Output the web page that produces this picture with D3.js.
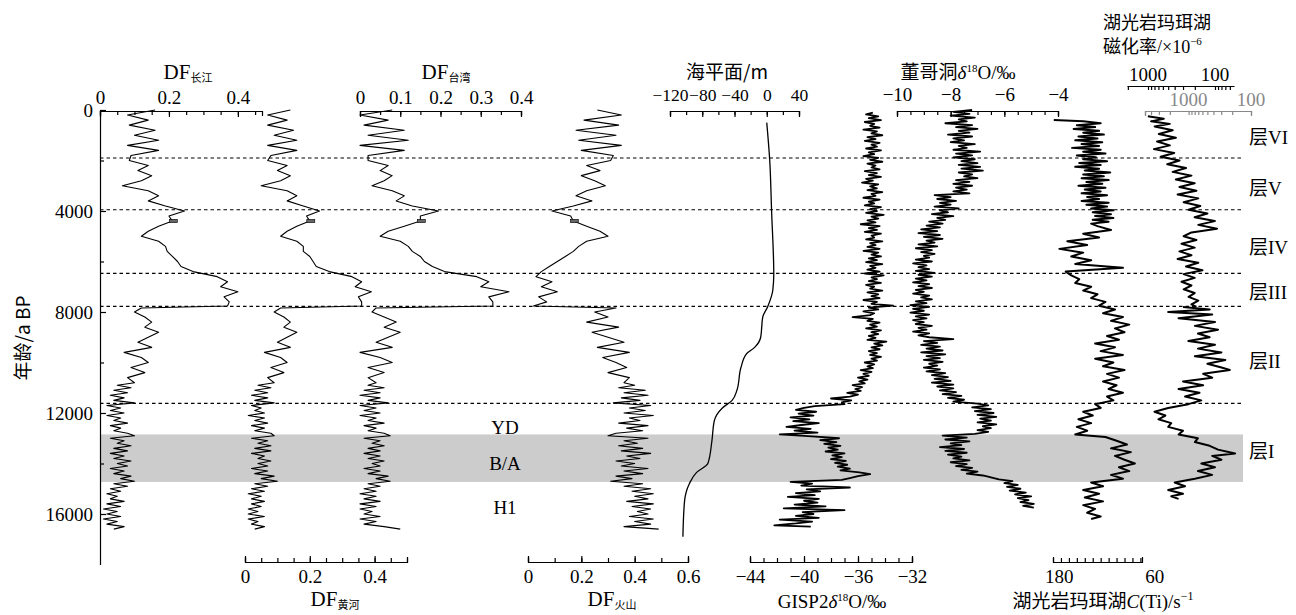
<!DOCTYPE html>
<meta charset="utf-8">
<head>
    <title>DF / climate records vs age</title>
</head>
<style>
    body { margin: 0; background: #fff; }
    text { font-family: "Liberation Serif", "Times New Roman", serif; fill: #000; }
    .cjk { font-family: "Noto Sans CJK SC", sans-serif; }
    .curve { fill: none; stroke: #000; stroke-linejoin: round; }
    .boundary { stroke: #000; stroke-width: 1.2px; stroke-dasharray: 3.5 3; }
</style>
<script src="https://d3js.org/d3.v7.min.js"></script>
<div id="my_viz"></div>
<script>

    // ---- age axis / zones ----
    var ageTicks = [0, 4000, 8000, 12000, 16000];
    var ageMinor = [2000, 6000, 10000, 14000];
    var boundaryAges = [1900, 3950, 6470, 7780, 11620];
    var bandAges = [12850, 14730];
    var eventNames = ["YD", "B/A", "H1"];
    var eventAges = [12550, 14000, 15750];
    var layerNames = ["层VI", "层V", "层IV", "层III", "层II", "层I"];
    var layerAges = [1070, 3090, 5420, 7230, 9950, 13500];
    var dfMarkAges = [4330, 4460];   // small filled box on every DF curve

    // ---- DF series (shared sample ages) ----
    var dfAges = [0,200,400,600,800,1000,1200,1400,1600,1800,2000,2200,2400,2600,2800,3000,3200,3400,3600,3800,
        4000,4200,4400,4600,4800,5000,5200,5400,5600,5800,6000,6200,6400,6600,6800,7000,7200,7400,7600,7760,7840,
        8000,8200,8400,8600,8800,9000,9200,9400,9600,9800,10000,10200,10400,10600,10800,
        10900,11000,11100,11200,11300,11400,11500,11600,11700,11800,11900,12000,12100,12200,12300,12400,12500,
        12600,12700,12800,12900,13000,13100,13200,13300,13400,13500,13600,13700,13800,13900,14000,14100,14200,
        14300,14400,14500,14600,14700,14800,14900,15000,15100,15200,15300,15400,15500,15600,15700,15800,15900,
        16000,16100,16200,16300,16400,16500,16600];
    var dfChangjiang = [.16,.08,.14,.085,.16,.10,.17,.08,.17,.09,.085,.14,.11,.15,.12,.065,.14,.17,.14,.19,
        .245,.20,.21,.17,.14,.12,.17,.19,.195,.21,.225,.235,.27,.34,.37,.35,.40,.36,.375,.37,.12,
        .10,.13,.15,.13,.17,.14,.11,.15,.07,.12,.14,.09,.13,.08,.10,
        .05,.09,.04,.08,.03,.07,.04,.10,.02,.06,.03,.07,.02,.06,.04,.08,.03,.06,.04,.08,.10,.03,.07,.05,.09,
        .04,.08,.03,.07,.04,.09,.05,.08,.03,.07,.04,.09,.06,.10,.04,.08,.03,.06,.02,.05,.03,.07,.02,.06,.01,
        .05,.02,.06,.01,.05,.02,.07,.04];
    var dfHuanghe = [.14,.07,.13,.07,.15,.09,.16,.07,.16,.08,.07,.13,.10,.14,.11,.05,.13,.16,.13,.18,
        .23,.19,.20,.16,.13,.11,.16,.18,.18,.20,.21,.22,.26,.33,.36,.34,.39,.35,.36,.36,.11,
        .09,.12,.14,.12,.16,.13,.10,.14,.06,.11,.13,.08,.12,.07,.09,
        .04,.08,.03,.07,.02,.07,.03,.09,.02,.05,.03,.06,.01,.06,.03,.07,.02,.06,.03,.08,.09,.02,.07,.04,.08,
        .03,.08,.02,.06,.04,.08,.04,.07,.02,.07,.03,.09,.05,.10,.03,.07,.02,.06,.01,.05,.02,.06,.02,.05,.01,
        .04,.01,.06,.01,.04,.02,.06,.03];
    var dfTaiwan = [.08,.00,.07,.01,.11,.02,.12,.00,.11,.02,.02,.07,.05,.08,.06,.03,.08,.11,.09,.13,
        .195,.15,.15,.11,.07,.05,.10,.12,.13,.15,.16,.18,.21,.29,.32,.30,.37,.32,.33,.33,.04,
        .03,.06,.09,.06,.10,.07,.04,.08,.00,.05,.08,.02,.06,.02,.04,
        .02,.06,.01,.05,.00,.05,.02,.07,.00,.04,.01,.05,.00,.04,.02,.06,.01,.04,.02,.06,.075,.01,.05,.03,.06,
        .02,.05,.01,.05,.02,.06,.03,.05,.01,.05,.02,.07,.04,.075,.02,.05,.01,.04,.00,.04,.01,.05,.00,.04,.00,
        .03,.01,.05,.00,.04,.01,.06,.10];
    var dfHuoshan = [.26,.35,.21,.34,.18,.33,.19,.35,.20,.32,.31,.22,.27,.20,.25,.29,.22,.18,.24,.17,
        .09,.16,.17,.22,.27,.30,.22,.19,.17,.14,.11,.08,.05,.03,.09,.05,.11,.04,.07,.02,.33,
        .25,.30,.22,.34,.24,.30,.36,.26,.38,.28,.33,.37,.30,.38,.36,
        .40,.34,.44,.36,.45,.35,.42,.32,.46,.38,.44,.36,.47,.38,.42,.34,.45,.37,.43,.33,.30,.45,.36,.41,.34,
        .43,.35,.46,.37,.42,.33,.40,.35,.45,.36,.43,.33,.39,.31,.43,.36,.46,.39,.47,.40,.45,.37,.47,.39,.46,
        .41,.45,.38,.47,.40,.46,.36,.49];

    // ---- sea level (m) ----
    var seaLevel = [[500,0],[2000,3.7],[4000,6],[6500,8.7],[7140,7.5],[7800,1],[8200,-5],[9000,-7.5],
        [9400,-15],[9650,-25],[10200,-32],[11100,-37],[11500,-43],[11800,-55],[12300,-65],[13100,-68],
        [14000,-73],[14350,-87],[14800,-96],[15500,-102],[16900,-104]];

    // ---- GISP2 d18O (permil) ----
    var gisp2 = [
        [100,-34.9],[175,-35.4],[250,-34.5],[325,-35.2],[400,-34.3],[475,-35.5],[550,-34.8],[625,-35.1],[700,-34.4],[775,-35.6],
        [850,-34.6],[925,-35.0],[1000,-34.2],[1075,-35.3],[1150,-34.7],[1225,-35.5],[1300,-34.4],[1375,-35.0],[1450,-34.6],[1525,-35.4],
        [1600,-34.3],[1675,-35.2],[1750,-34.8],[1825,-35.6],[1900,-34.5],[1975,-35.1],[2050,-34.2],[2125,-35.3],[2200,-34.7],[2275,-35.0],
        [2350,-34.4],[2425,-35.5],[2500,-34.6],[2575,-35.2],[2650,-34.3],[2725,-35.4],[2800,-34.9],[2875,-35.7],[2950,-34.5],[3025,-35.1],
        [3100,-34.6],[3175,-35.3],[3250,-34.2],[3325,-35.0],[3400,-34.7],[3475,-35.6],[3550,-34.4],[3625,-35.2],[3700,-34.8],[3775,-35.5],
        [3850,-34.3],[3925,-35.1],[4000,-34.6],[4075,-35.4],[4150,-34.1],[4225,-35.0],[4300,-34.5],[4375,-35.3],[4450,-34.7],[4525,-35.8],
        [4600,-34.4],[4675,-35.2],[4750,-34.6],[4825,-35.5],[4900,-34.3],[4975,-35.0],[5050,-34.8],[5125,-35.4],[5200,-34.2],[5275,-35.1],
        [5350,-34.7],[5425,-35.3],[5500,-34.4],[5575,-35.6],[5650,-34.5],[5725,-35.0],[5800,-34.3],[5875,-35.2],[5950,-34.6],[6025,-35.4],
        [6100,-34.2],[6175,-35.1],[6250,-34.7],[6325,-35.3],[6400,-34.4],[6475,-35.5],[6550,-34.1],[6625,-35.0],[6700,-34.6],[6775,-35.2],
        [6850,-34.3],[6925,-35.4],[7000,-34.8],[7075,-35.1],[7150,-34.2],[7225,-35.3],[7300,-34.5],[7375,-35.0],[7450,-34.4],[7525,-35.6],
        [7600,-34.6],[7675,-35.0],[7750,-33.4],[7825,-35.2],[7900,-34.5],[7975,-35.6],[8050,-34.8],[8125,-35.1],[8200,-36.4],[8275,-34.9],
        [8350,-35.3],[8425,-34.4],[8500,-35.1],[8575,-34.6],[8650,-35.4],[8725,-34.3],[8800,-35.0],[8875,-34.5],[8950,-35.2],[9025,-34.7],
        [9100,-35.3],[9175,-33.9],[9250,-34.8],[9325,-34.2],[9400,-35.0],[9475,-34.4],[9550,-35.2],[9625,-34.6],[9700,-35.1],[9775,-34.3],
        [9850,-35.0],[9925,-34.6],[10000,-35.5],[10075,-34.8],[10150,-35.3],[10225,-34.9],[10300,-35.8],[10375,-35.0],[10450,-35.6],[10525,-35.2],
        [10600,-36.0],[10675,-35.3],[10750,-35.9],[10825,-35.5],[10900,-36.4],[10975,-35.7],[11050,-36.2],[11125,-35.8],[11200,-36.8],[11275,-36.0],
        [11350,-36.6],[11425,-38.0],[11500,-36.5],[11575,-37.2],[11650,-37.0],[11725,-39.2],[11800,-40.0],[11875,-40.6],[11950,-39.1],[12025,-40.4],
        [12100,-39.3],[12175,-41.0],[12250,-39.6],[12325,-40.8],[12400,-38.9],[12475,-40.2],[12550,-41.3],[12625,-39.5],[12700,-40.7],[12775,-39.0],
        [12850,-41.8],[12925,-39.4],[13000,-37.4],[13075,-38.8],[13150,-37.6],[13225,-38.5],[13300,-37.3],[13375,-38.2],[13450,-37.5],[13525,-38.4],
        [13600,-37.0],[13675,-37.9],[13750,-37.2],[13825,-38.0],[13900,-36.9],[13975,-37.7],[14050,-36.8],[14125,-37.5],[14200,-36.6],[14275,-37.3],
        [14350,-35.9],[14425,-35.1],[14500,-36.0],[14575,-36.6],[14650,-37.2],[14725,-41.0],[14800,-39.4],[14875,-40.2],[14950,-36.6],[15025,-39.8],
        [15100,-38.8],[15175,-40.6],[15250,-39.2],[15325,-41.2],[15400,-38.9],[15475,-40.0],[15550,-39.0],[15625,-40.7],[15700,-38.4],[15775,-41.5],
        [15850,-37.0],[15925,-40.1],[16000,-39.3],[16075,-40.6],[16150,-38.9],[16225,-41.8],[16300,-39.4],[16375,-40.6],[16450,-42.2],[16500,-39.5]];

    // ---- Dongge cave d18O (permil) ----
    var dongge = [
        [0,-7.2],[75,-7.9],[150,-7.3],[225,-8.0],[300,-7.1],[375,-7.7],[450,-7.4],[525,-8.2],[600,-7.2],[675,-7.8],
        [750,-7.0],[825,-7.7],[900,-7.3],[975,-8.1],[1050,-7.2],[1125,-7.9],[1200,-7.5],[1275,-8.0],[1350,-7.1],[1425,-7.7],
        [1500,-7.4],[1575,-7.9],[1650,-6.9],[1725,-7.8],[1800,-7.2],[1875,-7.9],[1950,-7.1],[2025,-7.6],[2100,-7.0],[2175,-7.7],
        [2250,-6.9],[2325,-7.6],[2400,-6.8],[2475,-7.7],[2550,-7.2],[2625,-7.5],[2700,-7.0],[2775,-7.8],[2850,-7.3],[2925,-7.9],
        [3000,-7.2],[3075,-7.8],[3150,-7.4],[3225,-7.9],[3300,-7.3],[3375,-8.6],[3450,-8.0],[3525,-8.5],[3600,-7.8],[3675,-8.4],
        [3750,-8.0],[3825,-8.6],[3900,-7.7],[3975,-8.4],[4050,-8.1],[4125,-8.7],[4200,-7.9],[4275,-8.5],[4350,-8.2],[4425,-8.8],
        [4500,-8.3],[4575,-8.9],[4650,-8.4],[4725,-9.1],[4800,-8.5],[4875,-9.2],[4950,-8.4],[5025,-9.0],[5100,-8.3],[5175,-8.9],
        [5250,-8.6],[5325,-9.2],[5400,-8.5],[5475,-9.3],[5550,-8.7],[5625,-9.1],[5700,-8.6],[5775,-9.0],[5850,-8.8],[5925,-9.3],
        [6000,-8.7],[6075,-9.4],[6150,-8.9],[6225,-9.2],[6300,-8.8],[6375,-9.3],[6450,-8.6],[6525,-9.2],[6600,-8.7],[6675,-9.3],
        [6750,-8.9],[6825,-9.4],[6900,-8.8],[6975,-9.2],[7050,-8.7],[7125,-9.3],[7200,-9.0],[7275,-9.4],[7350,-8.8],[7425,-9.1],
        [7500,-8.7],[7575,-9.3],[7650,-8.9],[7725,-9.5],[7800,-8.8],[7875,-9.4],[7950,-9.0],[8025,-9.5],[8100,-8.8],[8175,-9.3],
        [8250,-8.9],[8325,-9.4],[8400,-9.0],[8475,-9.3],[8550,-8.7],[8625,-9.2],[8700,-8.9],[8775,-9.4],[8850,-8.8],[8925,-9.2],
        [9000,-8.8],[9075,-7.9],[9150,-9.0],[9225,-8.5],[9300,-9.1],[9375,-8.4],[9450,-8.9],[9525,-8.3],[9600,-9.1],[9675,-8.2],
        [9750,-8.9],[9825,-8.4],[9900,-9.0],[9975,-8.3],[10050,-8.8],[10125,-8.5],[10200,-9.0],[10275,-8.4],[10350,-8.9],[10425,-8.2],
        [10500,-8.7],[10575,-8.1],[10650,-8.6],[10725,-8.0],[10800,-8.7],[10875,-7.9],[10950,-8.5],[11025,-7.9],[11100,-8.4],[11175,-7.8],
        [11250,-8.3],[11325,-7.6],[11400,-8.1],[11475,-7.5],[11550,-7.9],[11625,-7.0],[11700,-6.6],[11775,-7.2],[11850,-6.5],[11925,-7.1],
        [12000,-6.4],[12075,-7.0],[12150,-6.3],[12225,-6.9],[12300,-6.5],[12375,-7.0],[12450,-6.3],[12525,-6.8],[12600,-6.5],[12675,-7.0],
        [12750,-6.6],[12825,-7.1],[12900,-8.3],[12975,-7.4],[13050,-8.2],[13125,-7.3],[13200,-8.0],[13275,-7.6],[13350,-8.4],[13425,-7.5],
        [13500,-8.2],[13575,-7.4],[13650,-8.1],[13725,-7.6],[13800,-7.9],[13875,-7.3],[13950,-8.0],[14025,-7.4],[14100,-7.8],[14175,-7.2],
        [14250,-7.6],[14325,-7.0],[14400,-7.4],[14475,-6.8],[14550,-6.5],[14625,-6.2],[14700,-5.7],[14775,-6.0],[14850,-5.5],[14925,-5.9],
        [15000,-5.4],[15075,-5.8],[15150,-5.2],[15225,-5.6],[15300,-5.0],[15375,-5.5],[15450,-5.1],[15525,-5.4],[15600,-4.9],[15675,-5.3],
        [15750,-4.9]];

    // ---- Huguangyan Maar Ti counts (cps) ----
    var tiCounts = [[400,187],[450,150],[525,128],[600,158],[675,135],[750,162],[825,130],[900,150],[975,124],[1050,156],
        [1125,132],[1200,160],[1275,126],[1350,152],[1425,130],[1500,164],[1575,128],[1650,150],[1725,122],[1800,158],
        [1875,134],[1950,150],[2025,120],[2100,155],[2175,128],[2250,160],[2325,130],[2400,148],[2475,116],[2550,150],
        [2625,124],[2700,152],[2775,118],[2850,146],[2925,126],[3000,156],[3075,122],[3150,148],[3225,128],[3300,152],
        [3375,120],[3450,145],[3525,130],[3600,152],[3675,118],[3750,146],[3825,120],[3900,140],[3975,112],[4050,138],
        [4125,115],[4200,135],[4275,112],[4350,138],[4425,118],[4500,140],
        [4600,132],[4750,115],[4900,150],[5050,130],[5200,170],[5350,145],[5500,180],[5650,150],[5800,165],[5950,140],
        [6100,160],[6250,100],[6400,172],[6550,165],[6700,155],[6850,160],[7000,140],[7150,150],[7300,132],[7450,140],
        [7600,122],[7750,130],[7900,110],[8050,125],[8200,100],[8350,115],[8500,92],[8650,110],[8800,98],[8950,120],
        [9100,105],[9250,135],[9400,110],[9550,128],[9700,100],[9850,135],[10000,112],[10150,125],[10300,98],[10450,120],
        [10600,105],[10750,125],[10900,108],[11050,118],[11200,100],[11350,120],[11500,112],[11650,135],[11800,128],
        [11950,150],[12100,138],[12250,156],[12400,140],[12550,158],[12700,145],[12850,160],[12950,122],[13100,108],
        [13250,95],[13400,115],[13550,90],[13700,110],[13850,98],[14000,85],[14150,105],[14300,92],[14450,115],
        [14600,100],[14750,140],[14900,125],[15050,150],[15200,130],[15350,148],[15500,125],[15650,150],[15800,135],
        [15950,145],[16100,128],[16200,140]];

    // ---- magnetic susceptibility (1e-6), upper part grey, lower part black ----
    var magSusUpper = [[250,4500],[350,2500],[450,4000],[550,2000],[650,3500],[800,1800],[950,3000],[1100,1600],
        [1250,3200],[1400,2000],[1550,3600],[1700,1700],[1850,2800],[2000,1400],[2150,2200],[2300,1100],[2450,1800],
        [2600,900],[2750,1600],[2900,800],[3050,1400],[3200,750],[3350,1500],[3500,700],[3650,1200],[3800,650],
        [3950,1000],[4100,500],[4250,800],[4400,380],[4550,700],[4700,350],[4850,900],[5000,1200],[5150,750],
        [5300,1300],[5450,800],[5600,1400],[5750,900],[5900,1500],[6050,700],[6200,1100],[6350,600],[6500,1200],
        [6650,800],[6800,1300],[6950,900],[7100,1200],[7250,800],[7400,1000],[7550,700],[7700,900],[7800,750]];
    var magSusLower = [[7800,300],[7900,120],[8000,500],[8100,110],[8250,350],[8400,100],[8550,200],[8700,90],
        [8850,180],[9000,120],[9150,250],[9300,100],[9450,180],[9600,80],[9750,200],[9900,70],[10050,130],[10200,80],
        [10300,60],[10450,150],[10600,110],[10750,300],[10900,150],[11050,350],[11200,170],[11350,280],[11500,160],
        [11650,250],[11800,500],[11950,800],[12100,550],[12250,700],[12400,450],[12550,500],[12700,300],[12850,350],
        [13000,180],[13150,200],[13300,120],[13450,90],[13600,50],[13700,110],[13850,80],[14000,160],[14150,100],
        [14300,180],[14450,110],[14600,200],[14750,400],[14900,280],[15050,500],[15200,300],[15300,450],[15400,350]];

    // ---- axis ticks ----
    var dfTicks = [0,0.05,0.1,0.15,0.2,0.25,0.3,0.35,0.4,0.45];
    var dfHhTicks = [0,0.05,0.1,0.15,0.2,0.25,0.3,0.35,0.4,0.45,0.5];
    var dfLabels = [0, 0.2, 0.4];
    var twTicks = [0,0.05,0.1,0.15,0.2,0.25,0.3,0.35,0.4];
    var twLabels = [0, 0.1, 0.2, 0.3, 0.4];
    var hsTicks = [0,0.1,0.2,0.3,0.4,0.5,0.6];
    var hsLabels = [0, 0.2, 0.4, 0.6];
    var seaTicks = [-120,-100,-80,-60,-40,-20,0,20,40];
    var seaLabels = [-120, -80, -40, 0, 40];
    var gispTicks = [-44,-43,-42,-41,-40,-39,-38,-37,-36,-35,-34,-33,-32];
    var gispLabels = [-44, -40, -36, -32];
    var dgTicks = [-10,-9.5,-9,-8.5,-8,-7.5,-7,-6.5,-6,-5.5,-5,-4.5,-4];
    var dgLabels = [-10, -8, -6, -4];
    var tiTicks = [188,178,168,158,148,138,128,118,108,98,88,78];
    var tiLabels = [180, 60];
    var msBlackTicks = [2000,1000,900,800,700,600,500,400,300,200,100,90,80,70,60];
    var msGreyTicks = [5000,4000,3000,2000,1000,900,800,700,600,500,400,300,200,100];
    var msLabels = [1000, 100];

    var W = 1296, H = 615;
    var topY = 111, botY = 562;
    var serif = "'Liberation Serif', 'Times New Roman', serif";
    var svg = d3.select("#my_viz").append("svg").attr("width", W).attr("height", H);

    var y = d3.scaleLinear().domain([0, 18000]).range([110, 564.5]);

    // x scales for each record
    var xCj = d3.scaleLinear().domain([0, 0.47]).range([100, 262]);
    var xHh = d3.scaleLinear().domain([0, 0.5]).range([245, 407]);
    var xTw = d3.scaleLinear().domain([0, 0.4]).range([360, 521]);
    var xHs = d3.scaleLinear().domain([0, 0.6]).range([528, 688]);
    var xSea = d3.scaleLinear().domain([-120, 40]).range([670, 799]);
    var xGisp = d3.scaleLinear().domain([-44, -32]).range([750, 912]);
    var xDg = d3.scaleLinear().domain([-10, -4]).range([897, 1058]);
    var xTi = d3.scaleLinear().domain([188, 76]).range([1053, 1142]);
    var xMsB = d3.scaleLog().domain([2060, 52]).range([1127, 1234]);
    var xMsG = d3.scaleLog().domain([5000, 100]).range([1145, 1251]);

    function fmt(d) { return d < 0 ? "\u2212" + Math.abs(d) : String(d); }

    // background: shaded B/A band and dashed zone boundaries
    svg.append("rect")
        .attr("x", 100).attr("width", 1143)
        .attr("y", y(bandAges[0])).attr("height", y(bandAges[1]) - y(bandAges[0]))
        .attr("fill", "#cccccc");

    svg.selectAll(".boundary").data(boundaryAges).enter().append("line")
        .attr("class", "boundary")
        .attr("x1", 100).attr("x2", 1243)
        .attr("y1", function (d) { return y(d); }).attr("y2", function (d) { return y(d); });

    // generic axis for a record: ticks point into the plot
    function recordAxis(scale, ypos, ticks, labels, where, color, labelSize) {
        color = color || "#000";
        var isTop = where === "top";
        var ax = isTop ? d3.axisTop(scale) : d3.axisBottom(scale);
        var g = svg.append("g").attr("transform", "translate(0," + ypos + ")");
        g.call(ax.tickValues(ticks).tickSizeInner(-4).tickSizeOuter(-5).tickFormat(""));
        var g2 = svg.append("g").attr("transform", "translate(0," + ypos + ")");
        g2.call((isTop ? d3.axisTop(scale) : d3.axisBottom(scale))
            .tickValues(labels).tickSizeInner(-6).tickSizeOuter(0).tickPadding(isTop ? 7 : 8).tickFormat(fmt));
        g2.select(".domain").remove();
        [g, g2].forEach(function (s) {
            s.attr("font-family", null).attr("font-size", null);
            s.selectAll("line,path").attr("stroke", color).attr("stroke-width", 1.2);
            s.selectAll("text").style("font-family", serif)
                .style("font-size", (labelSize || 19) + "px").style("fill", color);
        });
        return g2;
    }

    // age axis
    var ageAxis = svg.append("g").attr("transform", "translate(100,0)")
        .call(d3.axisLeft(y).tickValues(ageTicks).tickSizeInner(-6).tickSizeOuter(0).tickPadding(7).tickFormat(d3.format("d")));
    svg.append("g").attr("transform", "translate(100,0)")
        .call(d3.axisLeft(y).tickValues(ageMinor).tickSizeInner(-4).tickSizeOuter(0).tickFormat(""))
        .select(".domain").remove();
    ageAxis.attr("font-family", null).attr("font-size", null);
    ageAxis.selectAll("text").style("font-family", serif).style("font-size", "19px");
    svg.selectAll("g line, g path").attr("stroke-width", 1.2);

    svg.append("text")
        .attr("class", "cjk")
        .attr("transform", "translate(30," + 338 + ") rotate(-90)")
        .attr("text-anchor", "middle")
        .style("font-size", "19px")
        .text("年龄/a BP");

    // record axes
    recordAxis(xCj, topY, dfTicks, dfLabels, "top");
    recordAxis(xTw, topY, twTicks, twLabels, "top");
    recordAxis(xSea, topY, seaTicks, seaLabels, "top", "#000", 17.5).selectAll("text").attr("y", -10);
    recordAxis(xDg, topY, dgTicks, dgLabels, "top").selectAll("text").attr("y", -10);
    recordAxis(xHh, botY, dfHhTicks, dfLabels, "bottom");
    recordAxis(xHs, botY, hsTicks, hsLabels, "bottom");
    recordAxis(xGisp, botY, gispTicks, gispLabels, "bottom");
    recordAxis(xTi, botY, tiTicks, [], "bottom");
    svg.selectAll(".tiLab").data(tiLabels).enter().append("text")
        .attr("class", "tiLab")
        .attr("x", function (d) { return xTi(d); }).attr("y", 583)
        .attr("text-anchor", "middle").style("font-size", "19px")
        .text(fmt);

    // log axes for magnetic susceptibility (ticks hang below the line)
    var msB = svg.append("g").attr("transform", "translate(0,86)")
        .call(d3.axisBottom(xMsB).tickValues(msBlackTicks).tickSizeInner(4).tickSizeOuter(0).tickFormat(""));
    var msG = svg.append("g").attr("transform", "translate(0,111)")
        .call(d3.axisTop(xMsG).tickValues(msGreyTicks).tickSizeInner(-4).tickSizeOuter(-5).tickFormat(""));
    [msB, msG].forEach(function (s) { s.selectAll("line,path").attr("stroke-width", 1.2); });
    msG.selectAll("line,path").attr("stroke", "#888");
    svg.selectAll(".msBLab").data(msLabels).enter().append("text")
        .attr("x", function (d) { return xMsB(d); }).attr("y", 81)
        .attr("text-anchor", "middle").style("font-size", "19px").text(fmt);
    svg.selectAll(".msGLab").data(msLabels).enter().append("text")
        .attr("x", function (d) { return xMsG(d); }).attr("y", 106)
        .attr("text-anchor", "middle").style("font-size", "19px").style("fill", "#888").text(fmt);

    // ---- curves ----
    var line = function (xs, curve) {
        return d3.line().x(function (d) { return xs(d[1]); }).y(function (d) { return y(d[0]); })
            .curve(curve || d3.curveLinear);
    };
    function pairs(vals) { return dfAges.map(function (a, i) { return [a, vals[i]]; }); }
    function drawCurve(data, xs, sw, color, curve) {
        svg.append("path").datum(data).attr("class", "curve")
            .attr("stroke", color || "#000").attr("stroke-width", sw)
            .attr("d", line(xs, curve));
    }
    var dfSeries = [[dfChangjiang, xCj], [dfHuanghe, xHh], [dfTaiwan, xTw], [dfHuoshan, xHs]];
    var markIdx = dfAges.indexOf(4400);
    dfSeries.forEach(function (s) {
        drawCurve(pairs(s[0]), s[1], 1.1);
        var mx = s[1](s[0][markIdx]);
        svg.append("rect").attr("x", mx - 3).attr("width", 8)
            .attr("y", y(dfMarkAges[0])).attr("height", y(dfMarkAges[1]) - y(dfMarkAges[0]))
            .attr("fill", "#666").attr("stroke", "#000").attr("stroke-width", 0.6);
    });
    drawCurve(seaLevel, xSea, 1.3, "#000", d3.curveMonotoneY);
    drawCurve(gisp2, xGisp, 1.8);
    drawCurve(dongge, xDg, 1.8);
    drawCurve(tiCounts, xTi, 2);
    drawCurve(magSusUpper, xMsG, 2, "#999");
    drawCurve(magSusLower, xMsB, 2);

    // ---- titles ----
    function dfTitle(x, yy, sub) {
        var t = svg.append("text").attr("x", x).attr("y", yy).attr("text-anchor", "middle").style("font-size", "21px");
        t.append("tspan").text("DF");
        t.append("tspan").attr("class", "cjk").attr("dy", 3).style("font-size", "11px").text(sub);
    }
    dfTitle(188, 79, "长江");
    dfTitle(446, 79, "台湾");
    dfTitle(335, 606, "黄河");
    dfTitle(612, 606, "火山");

    svg.append("text").attr("class", "cjk").attr("x", 727).attr("y", 79)
        .attr("text-anchor", "middle").style("font-size", "19px").text("海平面/m");

    var dgT = svg.append("text").attr("x", 958).attr("y", 79).attr("text-anchor", "middle").style("font-size", "19px");
    dgT.append("tspan").attr("class", "cjk").text("董哥洞");
    dgT.append("tspan").style("font-style", "italic").text("δ");
    dgT.append("tspan").attr("dy", -7).style("font-size", "11px").text("18");
    dgT.append("tspan").attr("dy", 7).text("O/‰");

    var gT = svg.append("text").attr("x", 832).attr("y", 608).attr("text-anchor", "middle").style("font-size", "19px");
    gT.append("tspan").text("GISP2");
    gT.append("tspan").style("font-style", "italic").text("δ");
    gT.append("tspan").attr("dy", -7).style("font-size", "11px").text("18");
    gT.append("tspan").attr("dy", 7).text("O/‰");

    var tT = svg.append("text").attr("x", 1103).attr("y", 608).attr("text-anchor", "middle").style("font-size", "19px");
    tT.append("tspan").attr("class", "cjk").text("湖光岩玛珥湖");
    tT.append("tspan").style("font-style", "italic").text("C");
    tT.append("tspan").text("(Ti)/s");
    tT.append("tspan").attr("dy", -8).style("font-size", "12px").text("\u22121");

    svg.append("text").attr("class", "cjk").attr("x", 1103).attr("y", 29).style("font-size", "18px").text("湖光岩玛珥湖");
    var mT = svg.append("text").attr("x", 1103).attr("y", 53).style("font-size", "18px");
    mT.append("tspan").attr("class", "cjk").text("磁化率");
    mT.append("tspan").text("/×10");
    mT.append("tspan").attr("dy", -8).style("font-size", "11px").text("\u22126");

    // event + layer labels
    svg.selectAll(".evt").data(eventNames).enter().append("text")
        .attr("x", 505).attr("y", function (d, i) { return y(eventAges[i]); })
        .attr("dy", "0.35em").attr("text-anchor", "middle").style("font-size", "19px")
        .text(function (d) { return d; });

    svg.selectAll(".lyr").data(layerNames).enter().append("text")
        .attr("x", 1249).attr("y", function (d, i) { return y(layerAges[i]); })
        .attr("dy", "0.35em").style("font-size", "19px")
        .each(function (d) {
            d3.select(this).append("tspan").attr("class", "cjk").text(d.slice(0, 1));
            d3.select(this).append("tspan").text(d.slice(1));
        });

</script>
